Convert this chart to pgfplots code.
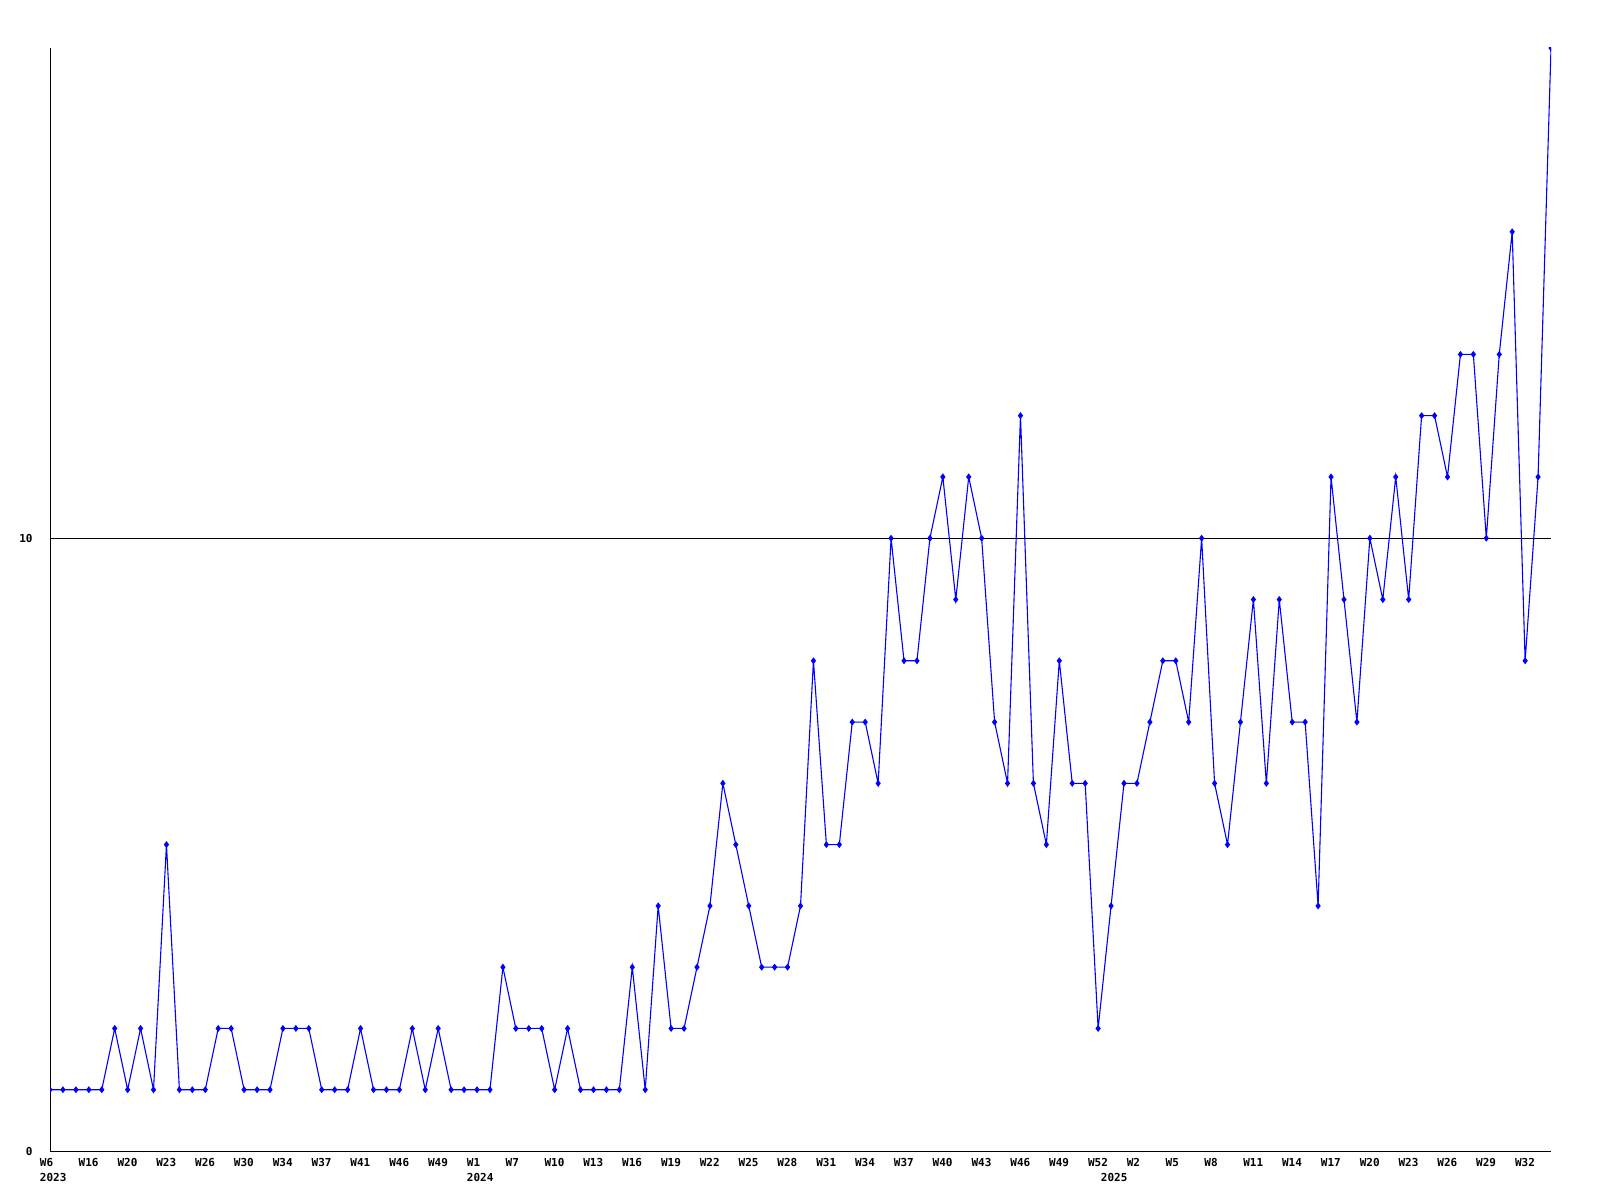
\documentclass[border=0pt]{standalone}
\usepackage{pgfplots}
\pgfplotsset{compat=1.18}
\usepackage{fontspec}
\setmonofont{DejaVu Sans Mono}
\begin{document}
\begin{tikzpicture}
\useasboundingbox (-25pt,-24.5pt) rectangle (775pt,575.5pt);
\begin{axis}[
  at={(0,0)}, anchor=origin,
  scale only axis, width=750.5pt, height=551.5pt,
  xmin=0, xmax=116, ymin=0, ymax=18,
  axis x line=bottom, axis y line=left,
  axis line style={-, black, line width=0.5pt},
  xtick={0,3,...,114},
  xticklabels={{W6\\2023},W16,W20,W23,W26,W30,W34,W37,W41,W46,W49,{W1\\2024},W7,W10,W13,W16,W19,W22,W25,W28,W31,W34,W37,W40,W43,W46,W49,W52,W2,W5,W8,W11,W14,W17,W20,W23,W26,W29,W32},
  xticklabel style={anchor=north west, xshift=-5.25pt, yshift=-3.6pt, inner sep=0pt, align=left,
    font=\ttfamily\bfseries\fontsize{5.5}{7.5}\selectfont},
  ytick={0,10},
  yticklabel style={anchor=east, xshift=-8.5pt, inner sep=0pt,
    font=\ttfamily\bfseries\fontsize{5.5}{7.5}\selectfont},
  /pgf/number format/assume math mode=true,
  major tick length=0pt,
  ymajorgrids, grid style={black, line width=0.5pt},
  clip=true, clip marker paths=true,
]
\addplot[color={rgb,255:red,0;green,0;blue,255}, line width=0.55pt, mark=diamond*, mark size=1.3pt, mark options={solid}] coordinates {
(0,1)(1,1)(2,1)(3,1)(4,1)(5,2)(6,1)(7,2)(8,1)(9,5)
(10,1)(11,1)(12,1)(13,2)(14,2)(15,1)(16,1)(17,1)(18,2)(19,2)
(20,2)(21,1)(22,1)(23,1)(24,2)(25,1)(26,1)(27,1)(28,2)(29,1)
(30,2)(31,1)(32,1)(33,1)(34,1)(35,3)(36,2)(37,2)(38,2)(39,1)
(40,2)(41,1)(42,1)(43,1)(44,1)(45,3)(46,1)(47,4)(48,2)(49,2)
(50,3)(51,4)(52,6)(53,5)(54,4)(55,3)(56,3)(57,3)(58,4)(59,8)
(60,5)(61,5)(62,7)(63,7)(64,6)(65,10)(66,8)(67,8)(68,10)(69,11)
(70,9)(71,11)(72,10)(73,7)(74,6)(75,12)(76,6)(77,5)(78,8)(79,6)
(80,6)(81,2)(82,4)(83,6)(84,6)(85,7)(86,8)(87,8)(88,7)(89,10)
(90,6)(91,5)(92,7)(93,9)(94,6)(95,9)(96,7)(97,7)(98,4)(99,11)
(100,9)(101,7)(102,10)(103,9)(104,11)(105,9)(106,12)(107,12)(108,11)(109,13)
(110,13)(111,10)(112,13)(113,15)(114,8)(115,11)(116,18)
};
\end{axis}
\node[anchor=north west, inner sep=0pt, font=\ttfamily\bfseries\fontsize{5.5}{7.5}\selectfont] at (525.28pt,-11.1pt) {2025};
\end{tikzpicture}
\end{document}
